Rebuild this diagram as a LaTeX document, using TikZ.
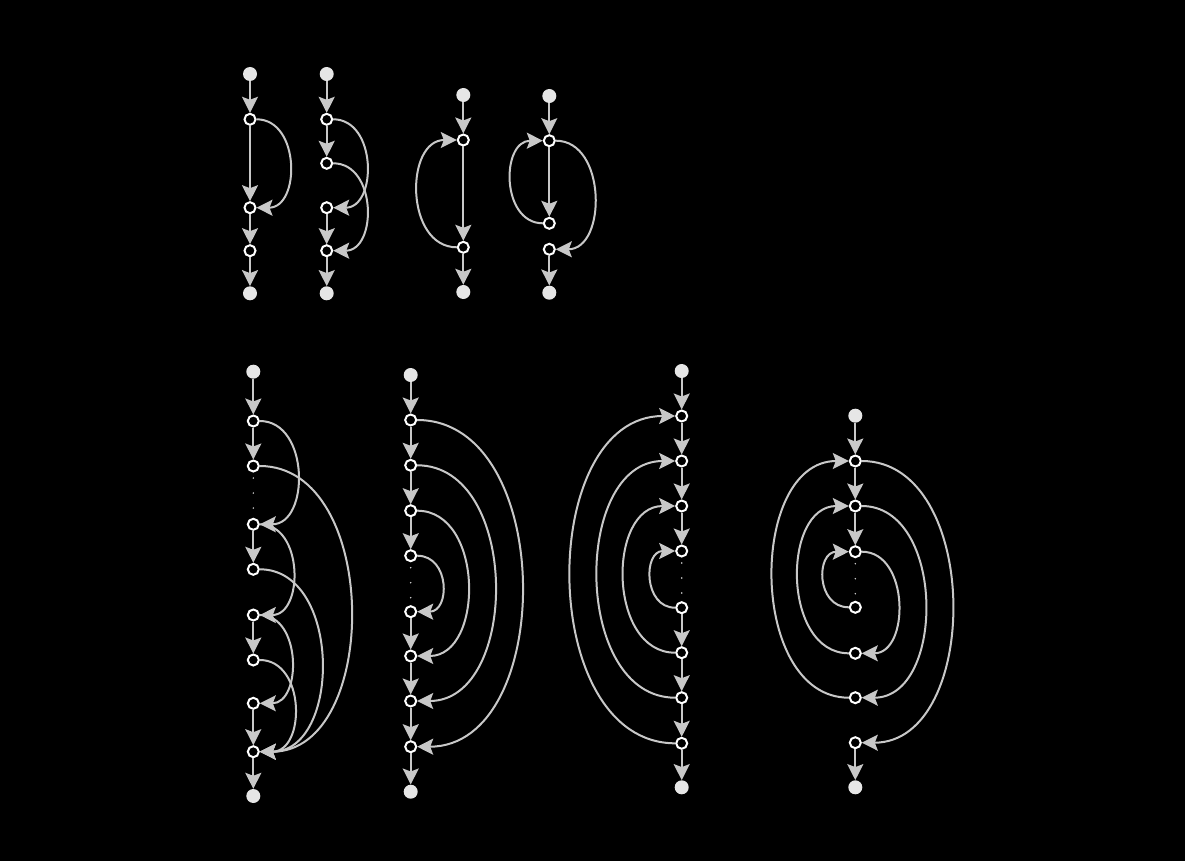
\documentclass[tikz,border=0pt]{standalone}
\usetikzlibrary{arrows.meta}
\definecolor{edgegray}{HTML}{C8C8C8}
\definecolor{termgray}{HTML}{E6E6E6}
\begin{document}
\begin{tikzpicture}[x=1pt,y=-1pt,
  term/.style={circle,fill=termgray,draw=none,minimum size=14pt,inner sep=0pt},
  mid/.style={circle,fill=black,draw=white,line width=2pt,minimum size=11pt,inner sep=0pt},
  edge/.style={draw=edgegray,line width=2pt,-{Stealth[length=16pt,width=16pt,inset=3pt]}},
  dotmark/.style={circle,fill=edgegray!70,inner sep=0pt,minimum size=1.6pt}]
\fill[black] (0,0) rectangle (1185,861);
\useasboundingbox (0,0) rectangle (1185,861);
\newcommand\curveR[3]{\draw[edge] (#1.east) .. controls +(#3,0) and +(#3,0) .. (#2.east);}
\newcommand\curveL[3]{\draw[edge] (#1.west) .. controls +(-#3,0) and +(-#3,0) .. (#2.west);}
\newcommand\gapdots[2]{\node[dotmark] at (#1,#2+12) {};\node[dotmark] at (#1,#2+27) {};\node[dotmark] at (#1,#2+42) {};}

% ---------- graph 1 ----------
\node[term] (a0) at (250,74) {};
\node[mid] (a1) at (250,119.3) {};
\node[mid] (a2) at (250,207.7) {};
\node[mid] (a3) at (250,250.7) {};
\node[term] (a4) at (250,293.3) {};
\draw[edge] (a0) -- (a1);
\draw[edge] (a1) -- (a2);
\draw[edge] (a2) -- (a3);
\draw[edge] (a3) -- (a4);
\curveR{a1}{a2}{44}

% ---------- graph 2 ----------
\node[term] (b0) at (326.7,74) {};
\node[mid] (b1) at (326.7,119.3) {};
\node[mid] (b2) at (326.7,163.3) {};
\node[mid] (b3) at (326.7,207.7) {};
\node[mid] (b4) at (326.7,250.7) {};
\node[term] (b5) at (326.7,293.3) {};
\draw[edge] (b0) -- (b1);
\draw[edge] (b1) -- (b2);
\draw[edge] (b3) -- (b4);
\draw[edge] (b4) -- (b5);
\curveR{b1}{b3}{44}
\curveR{b2}{b4}{44}

% ---------- graph 3 ----------
\node[term] (c0) at (463.3,95) {};
\node[mid] (c1) at (463.3,140) {};
\node[mid] (c2) at (463.3,247.3) {};
\node[term] (c3) at (463.3,292) {};
\draw[edge] (c0) -- (c1);
\draw[edge] (c1) -- (c2);
\draw[edge] (c2) -- (c3);
\curveL{c2}{c1}{52}

% ---------- graph 4 ----------
\node[term] (d0) at (549.3,96) {};
\node[mid] (d1) at (549.3,140.7) {};
\node[mid] (d2) at (549.3,223.3) {};
\node[mid] (d3) at (549.3,249.3) {};
\node[term] (d4) at (549.3,292.7) {};
\draw[edge] (d0) -- (d1);
\draw[edge] (d1) -- (d2);
\draw[edge] (d3) -- (d4);
\curveL{d2}{d1}{42}
\curveR{d1}{d3}{51}

% ---------- graph 5 ----------
\node[term] (e0) at (253.3,371.7) {};
\node[mid] (e1) at (253.3,421) {};
\node[mid] (e2) at (253.3,466) {};
\node[mid] (e3) at (253.3,524.3) {};
\node[mid] (e4) at (253.3,569.3) {};
\node[mid] (e5) at (253.3,615) {};
\node[mid] (e6) at (253.3,660) {};
\node[mid] (e7) at (253.3,703.3) {};
\node[mid] (e8) at (253.3,751.7) {};
\node[term] (e9) at (253.3,796) {};
\gapdots{253.3}{466}
\draw[edge] (e0) -- (e1);
\draw[edge] (e1) -- (e2);
\draw[edge] (e3) -- (e4);
\draw[edge] (e5) -- (e6);
\draw[edge] (e7) -- (e8);
\draw[edge] (e8) -- (e9);
\curveR{e1}{e3}{50}
\curveR{e2}{e8}{121}
\curveR{e3}{e5}{44}
\curveR{e4}{e8}{82}
\curveR{e5}{e7}{42}
\curveR{e6}{e8}{46}

% ---------- graph 6 ----------
\node[term] (f0) at (410.7,375) {};
\node[mid] (f1) at (410.7,420) {};
\node[mid] (f2) at (410.7,465.3) {};
\node[mid] (f3) at (410.7,510.7) {};
\node[mid] (f4) at (410.7,555.7) {};
\node[mid] (f5) at (410.7,611.7) {};
\node[mid] (f6) at (410.7,656) {};
\node[mid] (f7) at (410.7,701) {};
\node[mid] (f8) at (410.7,746.7) {};
\node[term] (f9) at (410.7,791.7) {};
\gapdots{410.7}{555.7}
\draw[edge] (f0) -- (f1);
\draw[edge] (f1) -- (f2);
\draw[edge] (f2) -- (f3);
\draw[edge] (f3) -- (f4);
\draw[edge] (f5) -- (f6);
\draw[edge] (f6) -- (f7);
\draw[edge] (f7) -- (f8);
\draw[edge] (f8) -- (f9);
\curveR{f4}{f5}{33}
\curveR{f3}{f6}{67}
\curveR{f2}{f7}{103}
\curveR{f1}{f8}{139}

% ---------- graph 7 ----------
\node[term] (g0) at (681.7,371) {};
\node[mid] (g1) at (681.7,416) {};
\node[mid] (g2) at (681.7,461) {};
\node[mid] (g3) at (681.7,506) {};
\node[mid] (g4) at (681.7,551) {};
\node[mid] (g5) at (681.7,607.7) {};
\node[mid] (g6) at (681.7,652.7) {};
\node[mid] (g7) at (681.7,697.7) {};
\node[mid] (g8) at (681.7,743.3) {};
\node[term] (g9) at (681.7,787.3) {};
\gapdots{681.7}{551}
\draw[edge] (g0) -- (g1);
\draw[edge] (g1) -- (g2);
\draw[edge] (g2) -- (g3);
\draw[edge] (g3) -- (g4);
\draw[edge] (g5) -- (g6);
\draw[edge] (g6) -- (g7);
\draw[edge] (g7) -- (g8);
\draw[edge] (g8) -- (g9);
\curveL{g5}{g4}{32}
\curveL{g6}{g3}{68}
\curveL{g7}{g2}{103}
\curveL{g8}{g1}{139}

% ---------- graph 8 ----------
\node[term] (h0) at (855.3,415.7) {};
\node[mid] (h1) at (855.3,461) {};
\node[mid] (h2) at (855.3,506) {};
\node[mid] (h3) at (855.3,551.7) {};
\node[mid] (h4) at (855.3,607.3) {};
\node[mid] (h5) at (855.3,653.3) {};
\node[mid] (h6) at (855.3,697.7) {};
\node[mid] (h7) at (855.3,742.7) {};
\node[term] (h8) at (855.3,787.3) {};
\gapdots{855.3}{551.7}
\draw[edge] (h0) -- (h1);
\draw[edge] (h1) -- (h2);
\draw[edge] (h2) -- (h3);
\draw[edge] (h7) -- (h8);
\curveL{h4}{h3}{33}
\curveR{h3}{h5}{48}
\curveL{h5}{h2}{67}
\curveR{h2}{h6}{84}
\curveL{h6}{h1}{101}
\curveR{h1}{h7}{120}
\end{tikzpicture}
\end{document}
